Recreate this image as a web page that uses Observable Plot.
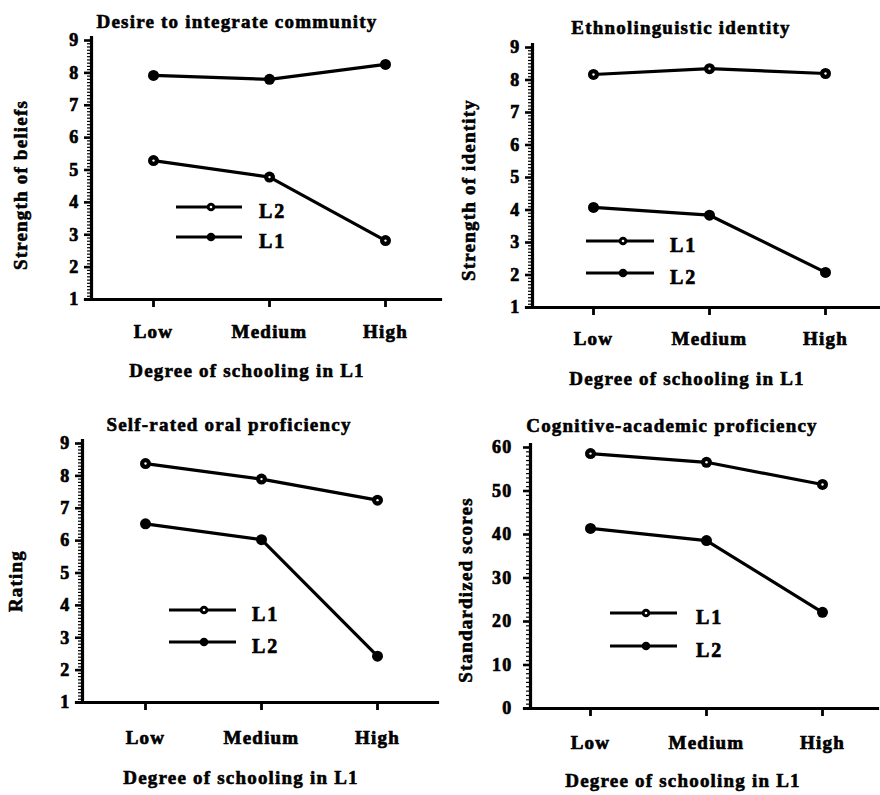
<!DOCTYPE html>
<html><head><meta charset="utf-8">
<script src="https://cdn.jsdelivr.net/npm/d3@7"></script>
<script src="https://cdn.jsdelivr.net/npm/@observablehq/plot@0.6"></script>
<style>
body{margin:0;background:#fff;}
#root{position:relative;width:880px;height:795px;overflow:hidden;background:#fff;font-family:"Liberation Serif","Times New Roman",serif;font-weight:bold;color:#000;}
.panel{position:absolute;}
.lbl{position:absolute;white-space:nowrap;line-height:1;font-size:19px;letter-spacing:1.2px;transform:translate(-50%,-50%);-webkit-text-stroke:0.6px #000;}
.vlbl{position:absolute;white-space:nowrap;line-height:1;font-size:19px;letter-spacing:1.2px;transform:translate(-50%,-50%) rotate(-90deg);-webkit-text-stroke:0.6px #000;}
#legend{position:absolute;left:0;top:0;pointer-events:none;}
#root svg text{stroke:#000;stroke-width:0.7px;}
</style></head>
<body><div id="root"></div>
<script>
// ---------- data ----------
const categories = ["Low", "Medium", "High"];
const panelTitles = ["Desire to integrate community", "Ethnolinguistic identity", "Self-rated oral proficiency", "Cognitive-academic proficiency"];
const yTitles = ["Strength of beliefs", "Strength of identity", "Rating", "Standardized scores"];
const xTitle = "Degree of schooling in L1";
const desireL1 = [7.92, 7.8, 8.26];
const desireL2 = [5.29, 4.78, 2.82];
const identityL1 = [8.17, 8.35, 8.2];
const identityL2 = [4.08, 3.84, 2.08];
const oralL1 = [8.38, 7.9, 7.25];
const oralL2 = [6.52, 6.03, 2.43];
const cognitiveL1 = [58.6, 56.6, 51.5];
const cognitiveL2 = [41.4, 38.6, 22.1];
const ratingTicks = [1, 2, 3, 4, 5, 6, 7, 8, 9];
const scoreTicks = [0, 10, 20, 30, 40, 50, 60];
const legendOrders = [["L2", "L1"], ["L1", "L2"], ["L1", "L2"], ["L1", "L2"]];
const openSeries = ["L2", "L1", "L1", "L1"];

const panelSeries = [
  [{name: "L1", values: desireL1}, {name: "L2", values: desireL2}],
  [{name: "L1", values: identityL1}, {name: "L2", values: identityL2}],
  [{name: "L1", values: oralL1}, {name: "L2", values: oralL2}],
  [{name: "L1", values: cognitiveL1}, {name: "L2", values: cognitiveL2}]
];
const panelTicks = [ratingTicks, ratingTicks, ratingTicks, scoreTicks];

// ---------- layout ----------
const layout = [
  {left: 0, top: 0, width: 440, height: 397, mL: 91, mR: 0, mT: 40, mB: 98, pad: 0.5, align: 0.53, xPad: 17, yPad: 5, minorStep: 0.1,
   title: [237, 21], xt: [247, 370], yt: [20, 185], lg: {ys: [207, 237], x0: 176, x1: 242, xm: 211, xl: 259}},
  {left: 440, top: 0, width: 440, height: 397, mL: 92, mR: 0, mT: 47, mB: 90, pad: 0.49, align: 0.525, xPad: 16, yPad: 5, minorStep: 0.1,
   title: [681, 27], xt: [687, 378], yt: [468, 190], lg: {ys: [241, 273], x0: 586, x1: 654, xm: 623, xl: 670}},
  {left: 0, top: 397, width: 440, height: 398, mL: 82, mR: 3, mT: 46, mB: 93, pad: 0.52, align: 0.515, xPad: 20, yPad: 5, minorStep: 0.1,
   title: [229, 424], xt: [241, 777], yt: [15, 581], lg: {ys: [610, 642], x0: 169, x1: 236, xm: 204, xl: 252}},
  {left: 440, top: 397, width: 440, height: 398, mL: 90, mR: 3, mT: 50, mB: 87, pad: 0.49, align: 0.52, xPad: 19, yPad: 11, minorStep: 1,
   title: [672, 425], xt: [683, 780], yt: [465, 590], lg: {ys: [613, 646], x0: 610, x1: 677, xm: 646, xl: 696}}
];

const root = document.getElementById("root");

function panelPlot(i) {
  const L = layout[i];
  const ticks = panelTicks[i];
  const domain = [ticks[0], ticks[ticks.length - 1]];
  const rows = [];
  panelSeries[i].forEach(s => s.values.forEach((v, j) =>
    rows.push({category: categories[j], series: s.name, value: v, open: s.name === openSeries[i]})));
  const minor = d3.range(domain[0], domain[1] + L.minorStep / 2, L.minorStep);
  return Plot.plot({
    width: L.width, height: L.height,
    marginLeft: L.mL, marginRight: L.mR, marginTop: L.mT, marginBottom: L.mB,
    style: {fontFamily: "Liberation Serif, Times New Roman, serif", fontWeight: "bold", color: "#000", background: "transparent", overflow: "visible", letterSpacing: "1.2px"},
    x: {type: "point", domain: categories, padding: L.pad, align: L.align},
    y: {domain},
    marks: [
      Plot.axisY({ticks: minor, tickSize: 4, tickFormat: () => "", label: null, strokeWidth: 1.2}),
      Plot.axisY({ticks, tickSize: 7, tickPadding: L.yPad, label: null, strokeWidth: 2.6, fontSize: 18, fontWeight: "bold"}),
      Plot.axisX({tickSize: 8, tickPadding: L.xPad, label: null, strokeWidth: 2.8, fontSize: 19, fontWeight: "bold"}),
      Plot.frame({anchor: "left", strokeWidth: 3.2, insetTop: -3}),
      Plot.frame({anchor: "bottom", strokeWidth: 3.2, insetLeft: -6}),
      Plot.line(rows, {x: "category", y: "value", z: "series", stroke: "#000", strokeWidth: 3.2}),
      Plot.dot(rows, {x: "category", y: "value", r: 5.5, fill: "#000", stroke: "none"}),
      Plot.dot(rows.filter(d => d.open), {x: "category", y: "value", r: 1.2, fill: "#fff", stroke: "none"})
    ]
  });
}

layout.forEach((L, i) => {
  const div = document.createElement("div");
  div.className = "panel";
  div.style.left = L.left + "px";
  div.style.top = L.top + "px";
  div.appendChild(panelPlot(i));
  root.appendChild(div);

  const t = document.createElement("div");
  t.className = "lbl"; t.textContent = panelTitles[i];
  t.style.left = L.title[0] + "px"; t.style.top = L.title[1] + "px";
  root.appendChild(t);

  const xt = document.createElement("div");
  xt.className = "lbl"; xt.textContent = xTitle;
  xt.style.left = L.xt[0] + "px"; xt.style.top = L.xt[1] + "px";
  root.appendChild(xt);

  const yt = document.createElement("div");
  yt.className = "vlbl"; yt.textContent = yTitles[i];
  yt.style.left = L.yt[0] + "px"; yt.style.top = L.yt[1] + "px";
  root.appendChild(yt);
});

// ---------- legends ----------
const svg = d3.select(root).append("svg").attr("id", "legend").attr("width", 880).attr("height", 795);
layout.forEach((L, i) => {
  legendOrders[i].forEach((name, k) => {
    const y = L.lg.ys[k];
    const g = svg.append("g");
    g.append("line").attr("x1", L.lg.x0).attr("x2", L.lg.x1).attr("y1", y).attr("y2", y)
      .attr("stroke", "#000").attr("stroke-width", 2.8);
    g.append("circle").attr("cx", L.lg.xm).attr("cy", y).attr("r", 4.3).attr("fill", "#000");
    if (name === openSeries[i]) g.append("circle").attr("cx", L.lg.xm).attr("cy", y).attr("r", 1.3).attr("fill", "#fff");
    g.append("text").attr("x", L.lg.xl).attr("y", y + 6).attr("dominant-baseline", "middle")
      .attr("font-family", "Liberation Serif, Times New Roman, serif").attr("font-weight", "bold")
      .attr("font-size", 20).attr("letter-spacing", "2px").text(name);
  });
});
</script>
</body></html>
